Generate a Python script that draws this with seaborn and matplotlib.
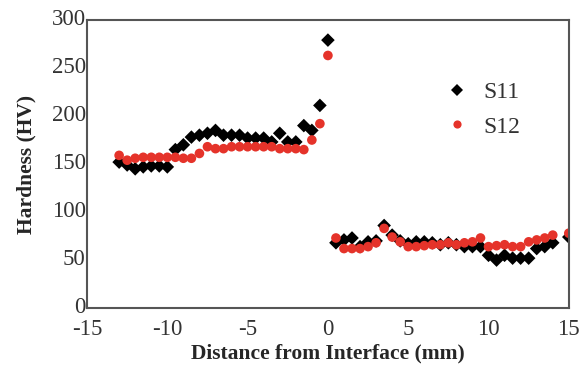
import pandas as pd
import matplotlib.pyplot as plt
import matplotlib.transforms as mtransforms
import seaborn as sns

# Hardness profile across the interface
x_left = [-13, -12.5, -12, -11.5, -11, -10.5, -10, -9.5, -9, -8.5, -8, -7.5, -7,
          -6.5, -6, -5.5, -5, -4.5, -4, -3.5, -3, -2.5, -2, -1.5, -1, -0.5, 0]
x_right = [0.5, 1, 1.5, 2, 2.5, 3, 3.5, 4, 4.5, 5, 5.5, 6, 6.5, 7, 7.5, 8, 8.5,
           9, 9.5, 10, 10.5, 11, 11.5, 12, 12.5, 13, 13.5, 14, 15]

s11_left = [152, 149, 145, 147, 148, 148, 147, 165, 170, 178, 180, 182, 185,
            180, 180, 180, 177, 177, 177, 173, 182, 173, 173, 190, 185, 211, 279]
s11_right = [68, 71, 73, 64, 69, 70, 86, 76, 70, 67, 69, 69, 68, 66, 68, 66, 64,
             64, 64, 55, 50, 55, 52, 52, 52, 62, 64, 68, 74]

s12_left = [159, 154, 156, 157, 157, 157, 157, 157, 156, 156, 161, 168, 166,
            166, 168, 168, 168, 168, 168, 168, 166, 166, 166, 165, 175, 192, 263]
s12_right = [73, 62, 62, 62, 64, 68, 83, 74, 69, 64, 64, 65, 66, 66, 68, 66, 68,
             69, 73, 64, 65, 66, 64, 64, 69, 71, 73, 76, 78]

x_ticks = [-15, -10, -5, 0, 5, 10, 15]
y_ticks = [0, 50, 100, 150, 200, 250, 300]

df = pd.DataFrame({
    'x': (x_left + x_right) * 2,
    'hv': s11_left + s11_right + s12_left + s12_right,
    'sample': ['S11'] * (len(x_left) + len(x_right)) + ['S12'] * (len(x_left) + len(x_right)),
})

sns.set_style('white')
plt.rcParams['font.family'] = ['Liberation Serif', 'DejaVu Serif']
plt.rcParams['axes.unicode_minus'] = False

fig = plt.figure(figsize=(5.84, 3.69), dpi=100)
ax = fig.add_axes([0.149, 0.165, 0.825, 0.781])

sns.scatterplot(data=df, x='x', y='hv', hue='sample', style='sample',
                palette={'S11': '#000000', 'S12': '#e5332a'},
                markers={'S11': 'D', 'S12': 'o'},
                s=48, linewidth=0, ax=ax)

ax.set_xlim(-15, 15)
ax.set_ylim(0, 300)
ax.set_xticks(x_ticks)
ax.set_yticks(y_ticks)
ax.tick_params(direction='in', length=3, width=0.8, color='#bbbbbb',
               labelsize=16.5, labelcolor='#333333', pad=1)
ax.tick_params(axis='x', pad=8)
for sp in ax.spines.values():
    sp.set_color('#555555')
    sp.set_linewidth(1.5)

# y tick labels sit a touch above their ticks in the original
shift = mtransforms.ScaledTranslation(0, 3 / 100, fig.dpi_scale_trans)
for lbl in ax.get_yticklabels():
    lbl.set_transform(lbl.get_transform() + shift)

ax.set_xlabel('Distance from Interface (mm)', fontsize=15.5, fontweight='bold', labelpad=2)
ax.set_ylabel('Hardness (HV)', fontsize=15.5, fontweight='bold', labelpad=11)

leg = ax.legend(loc='upper left', bbox_to_anchor=(0.675, 0.86), frameon=False,
                fontsize=17, handletextpad=0.1, labelspacing=0.55, markerscale=0.85)
for t in leg.get_texts():
    t.set_color('#333333')

fig.savefig('out.png', dpi=100)
